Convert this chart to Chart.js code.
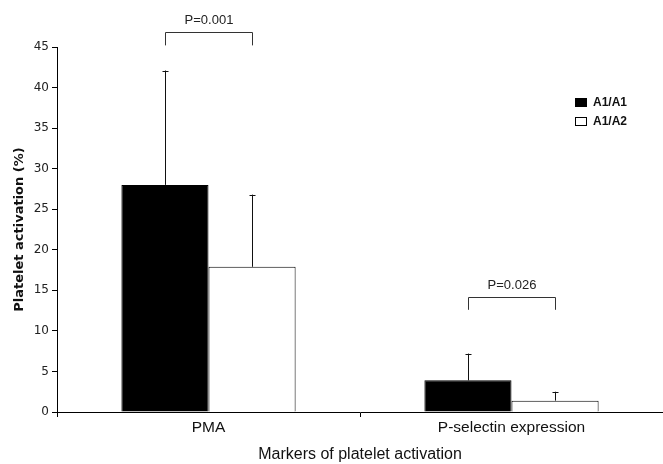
<!DOCTYPE html>
<html><head><meta charset="utf-8">
<script src="https://cdn.jsdelivr.net/npm/chart.js@4/dist/chart.umd.min.js"></script>
<style>html,body{margin:0;padding:0;background:#fff}#wrap{width:663px;height:464px}</style>
</head><body><div id="wrap"><canvas id="c" width="663" height="464"></canvas></div>
<script>
const categories = ['PMA', 'P-selectin expression'];
const seriesNames = ['A1/A1', 'A1/A2'];
const valuesA1A1 = [28.0, 3.9];
const valuesA1A2 = [17.9, 1.4];
const errA1A1 = [14.1, 3.3];
const errA1A2 = [8.9, 1.1];
const yTicks = [0, 5, 10, 15, 20, 25, 30, 35, 40, 45];
const pLabels = ['P=0.001', 'P=0.026'];
const bracketTop = [46.8, 14.2];
const bracketLeg = [45.2, 12.6];

const errs = [errA1A1, errA1A2];

const overlay = {
  id: 'overlay',
  afterDatasetsDraw(chart) {
    const ctx = chart.ctx, y = chart.scales.y;
    ctx.save();
    ctx.strokeStyle = '#111';
    ctx.lineWidth = 1;
    chart.data.datasets.forEach((ds, di) => {
      const meta = chart.getDatasetMeta(di);
      meta.data.forEach((bar, i) => {
        const x = Math.round(bar.x) + 0.5;
        const top = y.getPixelForValue(ds.data[i] + errs[di][i]);
        ctx.beginPath();
        ctx.moveTo(x, bar.y);
        ctx.lineTo(x, top);
        ctx.moveTo(x - 3, Math.round(top) + 0.5);
        ctx.lineTo(x + 3, Math.round(top) + 0.5);
        ctx.stroke();
      });
    });
    // significance brackets
    const m0 = chart.getDatasetMeta(0), m1 = chart.getDatasetMeta(1);
    ctx.strokeStyle = '#333';
    ctx.fillStyle = '#222';
    ctx.font = '13px "Liberation Sans", Arial, sans-serif';
    ctx.textAlign = 'center';
    ctx.textBaseline = 'bottom';
    pLabels.forEach((lab, i) => {
      const x0 = Math.round(m0.data[i].x) + 0.5, x1 = Math.round(m1.data[i].x) + 0.5;
      const yt = Math.round(y.getPixelForValue(bracketTop[i])) + 0.5;
      const yl = y.getPixelForValue(bracketLeg[i]);
      ctx.beginPath();
      ctx.moveTo(x0, yl); ctx.lineTo(x0, yt); ctx.lineTo(x1, yt); ctx.lineTo(x1, yl);
      ctx.stroke();
      ctx.fillText(lab, (x0 + x1) / 2, yt - 6);
    });
    // legend
    const lx = 575, ly = 98;
    ctx.font = 'bold 12px "Liberation Sans", Arial, sans-serif';
    ctx.textAlign = 'left';
    ctx.textBaseline = 'middle';
    chart.data.datasets.forEach((ds, di) => {
      const yy = ly + di * 19;
      ctx.fillStyle = ds.backgroundColor;
      ctx.fillRect(lx + 0.5, yy + 0.5, 11, 8);
      ctx.strokeStyle = '#000';
      ctx.strokeRect(lx + 0.5, yy + 0.5, 11, 8);
      ctx.fillStyle = '#111';
      ctx.fillText(ds.label, lx + 18, yy + 5);
    });
    ctx.restore();
  }
};

new Chart(document.getElementById('c'), {
  type: 'bar',
  data: {
    labels: categories,
    datasets: [
      { label: seriesNames[0], data: valuesA1A1, backgroundColor: '#000000', borderColor: '#000', borderWidth: 1 },
      { label: seriesNames[1], data: valuesA1A2, backgroundColor: '#ffffff', borderColor: '#000', borderWidth: 1 }
    ]
  },
  options: {
    responsive: false,
    animation: false,
    events: [],
    layout: { padding: { left: 12, top: 47, right: 0, bottom: 0 } },
    datasets: { bar: { categoryPercentage: 0.575, barPercentage: 1.0 } },
    plugins: { legend: { display: false }, tooltip: { enabled: false } },
    scales: {
      x: {
        grid: { display: true, drawOnChartArea: false, drawTicks: true, tickLength: 5, color: '#000', offset: true },
        border: { display: true, color: '#000', width: 1 },
        ticks: { color: '#111', font: { family: '"Liberation Sans", Arial, sans-serif', size: 15.5 }, padding: 1 },
        title: { display: true, text: 'Markers of platelet activation', color: '#111', font: { family: '"Liberation Sans", Arial, sans-serif', size: 16 }, padding: { top: 9, bottom: 0 } },
        afterFit(s) { s.height = 52; }
      },
      y: {
        min: 0, max: 45,
        afterBuildTicks(s) { s.ticks = yTicks.map(v => ({ value: v })); },
        grid: { display: true, drawOnChartArea: false, drawTicks: true, tickLength: 5, color: '#000' },
        border: { display: true, color: '#000', width: 1 },
        ticks: { color: '#222', font: { family: '"DejaVu Sans", Verdana, sans-serif', size: 12 }, padding: 3 },
        title: { display: true, text: 'Platelet activation (%)', color: '#111', font: { family: '"DejaVu Sans", Verdana, sans-serif', size: 13, weight: 'bold' }, padding: { top: 0, bottom: 4 } },
        afterFit(s) { s.width = 45; }
      }
    }
  },
  plugins: [overlay]
});
</script>
</body></html>
